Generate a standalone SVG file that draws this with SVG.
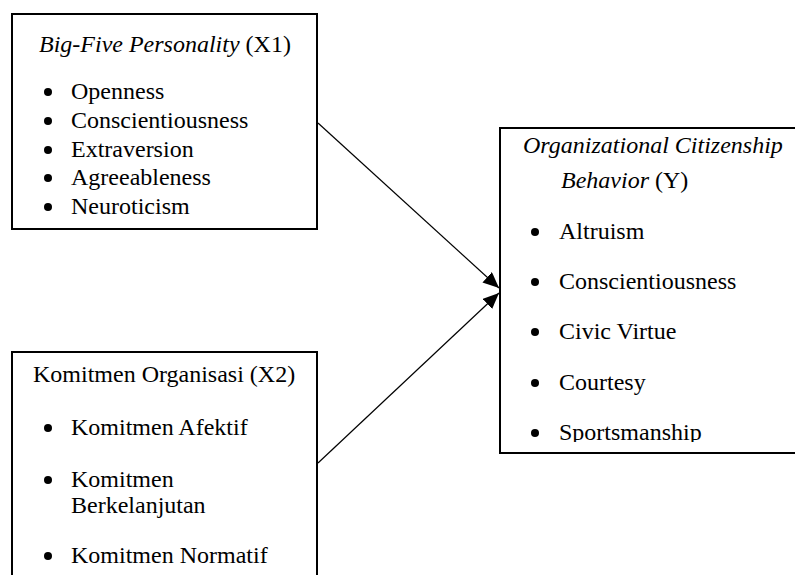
<svg xmlns="http://www.w3.org/2000/svg" width="795" height="575" viewBox="0 0 795 575">
<style>
text{font-family:"Liberation Serif","Times New Roman",serif;font-size:24px;fill:#000}
.box{fill:#fff;stroke:#000;stroke-width:2}
.it{font-style:italic}
.conn{stroke:#000;stroke-width:1.2;fill:none;marker-end:url(#ah)}
.dot{fill:#000}
</style>
<defs>
<marker id="ah" markerUnits="userSpaceOnUse" markerWidth="18" markerHeight="16" refX="16" refY="7" orient="auto">
<path d="M0,0 L16,7 L0,14 Z" fill="#000"/>
</marker>
<clipPath id="clipY"><rect x="500" y="128" width="300" height="314"/></clipPath>
</defs>
<g id="connectors">
<line class="conn" x1="318" y1="123" x2="499" y2="288"/>
<line class="conn" x1="318" y1="463" x2="499" y2="293"/>
</g>
<g id="x1">
<rect class="box" x="12" y="14" width="305" height="215"/>
<text x="39" y="52"><tspan class="it">Big-Five Personality</tspan> (X1)</text>
<circle class="dot" cx="48" cy="92" r="4"/><text x="71" y="99">Openness</text>
<circle class="dot" cx="48" cy="121" r="4"/><text x="71" y="128">Conscientiousness</text>
<circle class="dot" cx="48" cy="150" r="4"/><text x="71" y="157">Extraversion</text>
<circle class="dot" cx="48" cy="178" r="4"/><text x="71" y="185">Agreeableness</text>
<circle class="dot" cx="48" cy="207" r="4"/><text x="71" y="214">Neuroticism</text>
</g>
<g id="x2">
<rect class="box" x="12" y="352" width="305" height="240"/>
<text x="33" y="382">Komitmen Organisasi (X2)</text>
<circle class="dot" cx="48" cy="428" r="4"/><text x="71" y="435">Komitmen Afektif</text>
<circle class="dot" cx="48" cy="480" r="4"/><text x="71" y="487">Komitmen</text>
<text x="71" y="513">Berkelanjutan</text>
<circle class="dot" cx="48" cy="556" r="4"/><text x="71" y="563">Komitmen Normatif</text>
</g>
<g id="y">
<rect class="box" x="500" y="128" width="305" height="325"/>
<text x="523" y="153" class="it">Organizational Citizenship</text>
<text x="561" y="188"><tspan class="it">Behavior</tspan> (Y)</text>
<circle class="dot" cx="535" cy="232" r="4"/><text x="559" y="239">Altruism</text>
<circle class="dot" cx="535" cy="282" r="4"/><text x="559" y="289">Conscientiousness</text>
<circle class="dot" cx="535" cy="332" r="4"/><text x="559" y="339">Civic Virtue</text>
<circle class="dot" cx="535" cy="383" r="4"/><text x="559" y="390">Courtesy</text>
<g clip-path="url(#clipY)">
<circle class="dot" cx="535" cy="433" r="4"/><text x="559" y="440">Sportsmanship</text>
</g>
</g>
</svg>
